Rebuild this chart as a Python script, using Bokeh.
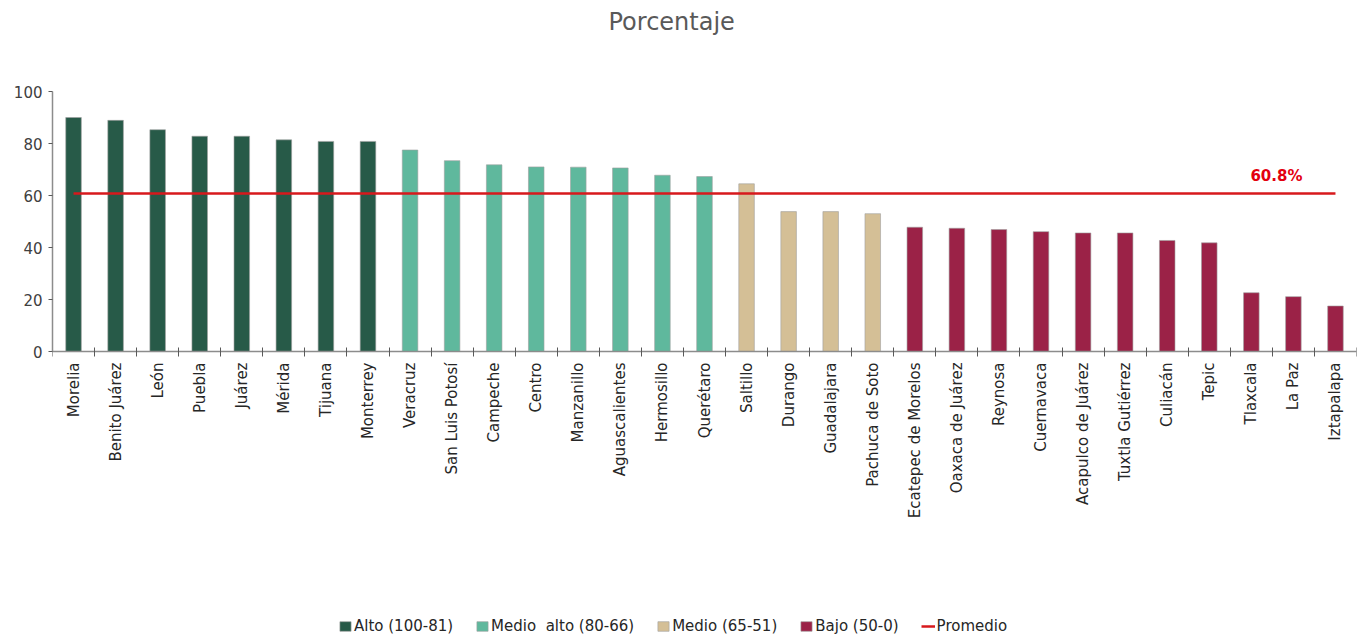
import math
from bokeh.plotting import figure
from bokeh.models import (ColumnDataSource, FixedTicker, Legend, LegendItem,
                          Range1d, Label, LinearAxis, Title)
from bokeh.embed import file_html
from bokeh.resources import INLINE

categorias = ["Morelia", "Benito Juárez", "León", "Puebla", "Juárez", "Mérida",
              "Tijuana", "Monterrey", "Veracruz", "San Luis Potosí", "Campeche",
              "Centro", "Manzanillo", "Aguascalientes", "Hermosillo", "Querétaro",
              "Saltillo", "Durango", "Guadalajara", "Pachuca de Soto",
              "Ecatepec de Morelos", "Oaxaca de Juárez", "Reynosa", "Cuernavaca",
              "Acapulco de Juárez", "Tuxtla Gutiérrez", "Culiacán", "Tepic",
              "Tlaxcala", "La Paz", "Iztapalapa"]
valores = [90.0, 88.9, 85.3, 82.8, 82.8, 81.4, 80.8, 80.8, 77.5, 73.4, 71.8,
           71.0, 70.9, 70.6, 67.8, 67.3, 64.5, 53.8, 53.8, 53.0, 47.8, 47.4,
           46.9, 46.1, 45.6, 45.6, 42.7, 41.8, 22.6, 21.1, 17.5]
grupos = ["Alto"] * 8 + ["Medio alto"] * 8 + ["Medio"] * 4 + ["Bajo"] * 11
grupo_nombres = ["Alto", "Medio alto", "Medio", "Bajo"]
grupo_etiquetas = ["Alto (100-81)", "Medio  alto (80-66)", "Medio (65-51)", "Bajo (50-0)"]
grupo_colores = ["#275A48", "#5FB89D", "#D4BF96", "#9B2247"]
promedio = 60.8
y_ticks = [0, 20, 40, 60, 80, 100]

FONT = "DejaVu Sans"
n = len(categorias)

# frame spans from the 100 line down to the legend; the category axis sits at y=0
p = figure(frame_width=1304, frame_height=546, output_backend="svg",
           toolbar_location=None, title=None, x_axis_location=None,
           x_range=Range1d(-0.5, n - 0.5), y_range=Range1d(-110, 100),
           min_border_left=52, min_border_right=11, min_border_top=91,
           min_border_bottom=1)
p.outline_line_color = None
p.xgrid.visible = False
p.ygrid.visible = False

# titles: spacer closest to the frame, then the visible title
p.add_layout(Title(text=" ", text_font_size="1px", standoff=48), "above")
p.add_layout(Title(text="Porcentaje", align="left", offset=556, text_font=FONT,
                   text_font_size="24px", text_font_style="normal",
                   text_color="#595959", standoff=10), "above")

items = []
for g, lab, col in zip(grupo_nombres, grupo_etiquetas, grupo_colores):
    xs = [i for i, gg in enumerate(grupos) if gg == g]
    src = ColumnDataSource(dict(x=xs, top=[valores[i] for i in xs]))
    r = p.vbar(x="x", top="top", width=0.37, source=src, fill_color=col,
               line_color="#a0a0a0", line_width=0.6)
    items.append(LegendItem(label=lab, renderers=[r]))

lsrc = ColumnDataSource(dict(x=[0, n - 1], y=[promedio, promedio]))
lr = p.line(x="x", y="y", source=lsrc, line_color="#D7191C", line_width=2.5)
items.append(LegendItem(label="Promedio", renderers=[lr]))

p.add_layout(Label(x=n - 2, y=promedio, text=f"{promedio}%", x_offset=-17, y_offset=8,
                   text_align="center", text_baseline="bottom",
                   text_font=FONT, text_font_style="bold", text_font_size="15px",
                   text_color="#E3000F"))

# category axis fixed at y = 0
xaxis = LinearAxis(fixed_location=0)
xaxis.ticker = FixedTicker(ticks=list(range(n)),
                           minor_ticks=[i - 0.5 for i in range(n + 1)])
xaxis.major_label_overrides = {i: c for i, c in enumerate(categorias)}
xaxis.major_label_orientation = math.pi / 2
xaxis.major_tick_out = 0
xaxis.major_tick_in = 0
xaxis.minor_tick_out = 5
xaxis.minor_tick_in = 4
xaxis.minor_tick_line_color = "#595959"
xaxis.axis_line_color = "#8c8c8c"
xaxis.axis_line_width = 1.5
xaxis.major_label_text_font = FONT
xaxis.major_label_text_font_size = "15px"
xaxis.major_label_text_color = "#262626"
xaxis.major_label_standoff = 6
p.add_layout(xaxis, "below")

p.yaxis.ticker = FixedTicker(ticks=y_ticks, minor_ticks=[])
p.yaxis.bounds = (y_ticks[0], y_ticks[-1])
p.yaxis.major_tick_out = 4
p.yaxis.major_tick_in = 0
p.yaxis.major_tick_line_color = "#595959"
p.yaxis.axis_line_color = "#8c8c8c"
p.yaxis.axis_line_width = 1.5
p.yaxis.major_label_text_font = FONT
p.yaxis.major_label_text_font_size = "15px"
p.yaxis.major_label_text_color = "#404040"
p.yaxis.major_label_standoff = 6

legend = Legend(items=items, orientation="horizontal", location=(286, 2),
                background_fill_alpha=0, border_line_alpha=0,
                label_text_font=FONT, label_text_font_size="15px",
                label_text_color="#262626",
                glyph_width=14, glyph_height=12, label_standoff=2, spacing=22,
                padding=0, margin=0, label_height=15)
p.add_layout(legend)

open("out.html", "w").write(file_html(p, INLINE))
